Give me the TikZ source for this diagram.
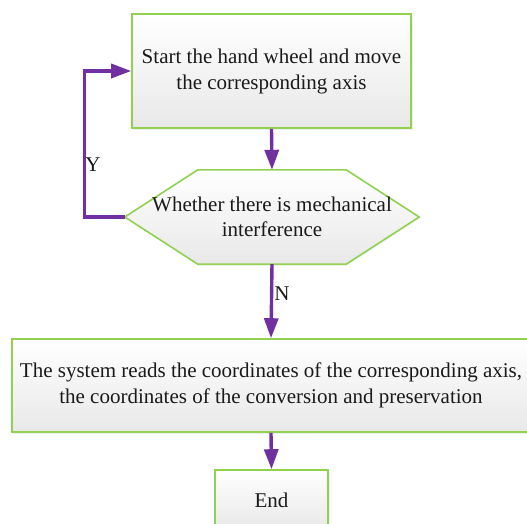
\documentclass[tikz,border=0pt]{standalone}
\usepackage{fontspec}
\setmainfont{Liberation Serif}
\usetikzlibrary{arrows.meta,shadows}
\definecolor{bgreen}{HTML}{92D050}
\definecolor{fpurple}{HTML}{7030A0}
\definecolor{txt}{HTML}{1A1A1A}
\tikzset{
  box/.style={draw=bgreen, line width=1.6pt, rectangle, top color=white, bottom color=black!9,
    drop shadow={opacity=0.12, shadow xshift=1.5pt, shadow yshift=-1.5pt},
    align=center, text=txt, font=\fontsize{21}{26}\selectfont, inner sep=0pt},
  ghost/.style={rectangle, inner sep=0pt, align=center, text=txt, font=\fontsize{21}{25.5}\selectfont},
  flow/.style={draw=fpurple, line width=3.4pt, -{Triangle[length=20pt,width=14pt]}},
  lbl/.style={text=txt, font=\fontsize{21}{24}\selectfont, inner sep=0pt}
}
\begin{document}
\begin{tikzpicture}[x=1pt,y=-1pt]
\useasboundingbox (0,0) rectangle (527,523);
\node[box, minimum width=279pt, minimum height=114pt] (start) at (271.5,71) {Start the hand wheel and move\\the corresponding axis};
% hexagon decision
\node[ghost, minimum width=294pt, minimum height=94pt] (dec) at (272,217) {};
\fill[black!25, opacity=0.12] ([shift={(1.5,1.5)}]dec.west) -- ([shift={(74.5,1.5)}]dec.north west) -- ([shift={(-71.5,1.5)}]dec.north east) -- ([shift={(1.5,1.5)}]dec.east) -- ([shift={(-71.5,1.5)}]dec.south east) -- ([shift={(74.5,1.5)}]dec.south west) -- cycle;
\draw[draw=bgreen, line width=1.6pt, top color=white, bottom color=black!9] (dec.west) -- ([xshift=73pt]dec.north west) -- ([xshift=-73pt]dec.north east) -- (dec.east) -- ([xshift=-73pt]dec.south east) -- ([xshift=73pt]dec.south west) -- cycle;
\node[ghost] (dectext) at (dec.center) {Whether there is mechanical\\interference};
\node[box, minimum width=518pt, minimum height=93pt] (read) at (271,385.5) {The system reads the coordinates of the corresponding axis,\\the coordinates of the conversion and preservation};
\node[box, minimum width=113pt, minimum height=60pt] (end) at (271.5,500) {End};
\coordinate (c1) at (84.5,217);
\coordinate (c2) at (84.5,71);
\draw[flow] (start.south) -- (dec.north);
\draw[flow] (dec.west) -- (c1) -- (c2) -- (start.west);
\draw[flow] (dec.south) -- (read.north);
\draw[flow] (read.south) -- (end.north);
\node[lbl] (ylab) at (93,165) {Y};
\node[lbl] (nlab) at (282,294) {N};
\end{tikzpicture}
\end{document}
